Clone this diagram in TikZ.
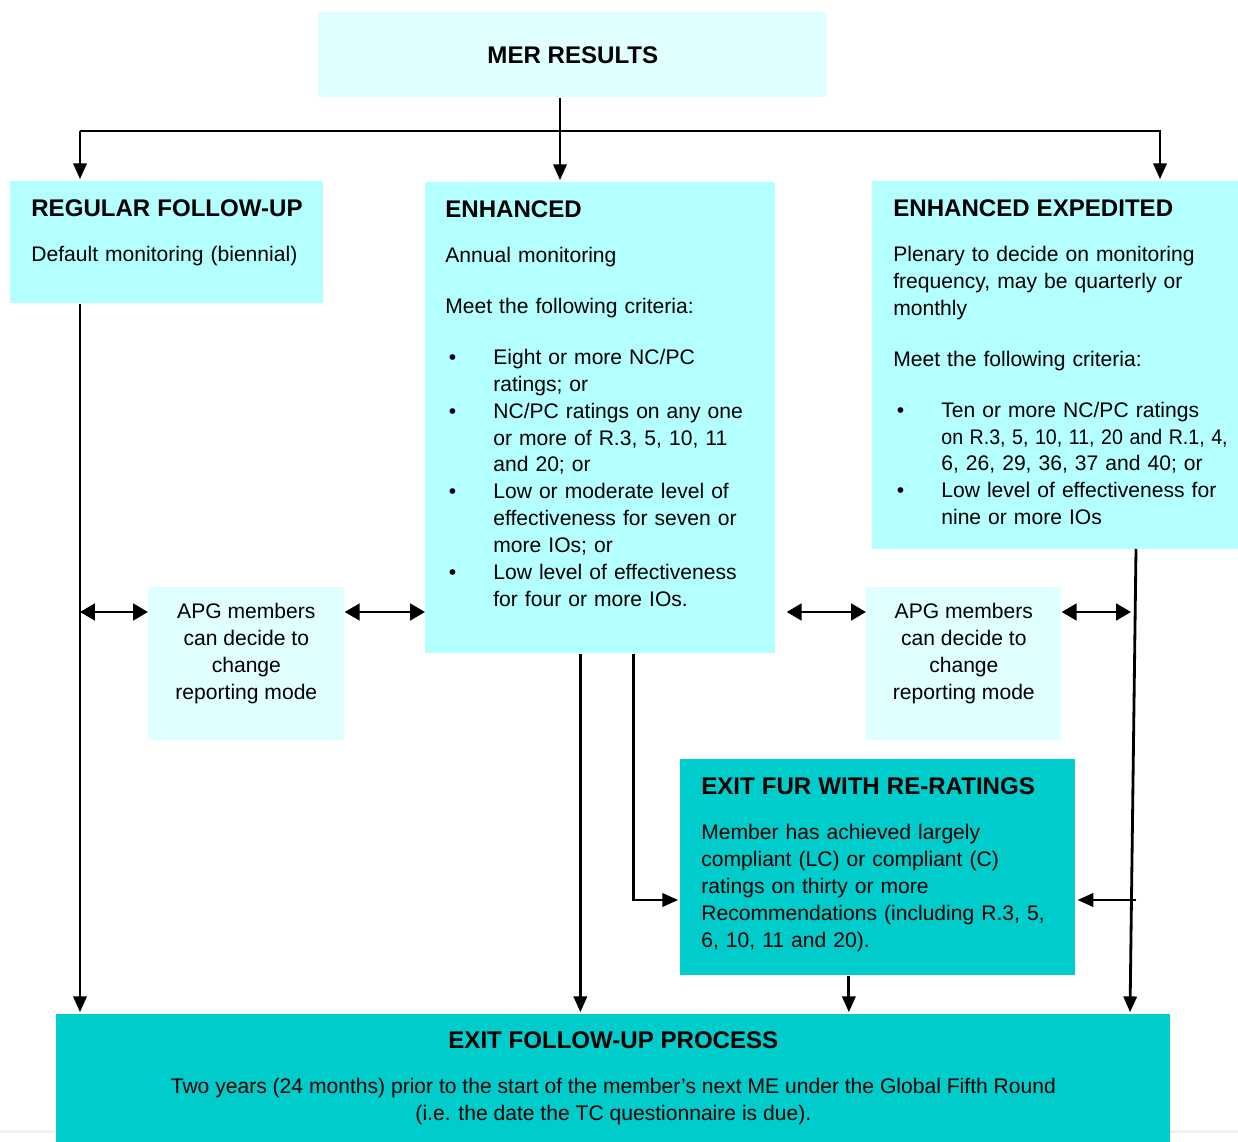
\documentclass[tikz,border=0pt]{standalone}
\usepackage{fontspec}
\setmainfont{Liberation Sans}
\usepackage{xcolor}
\usepackage{graphicx}
\usetikzlibrary{arrows.meta,positioning,calc}

\definecolor{palecyan}{HTML}{E0FFFF}
\definecolor{lightcyan}{HTML}{B4FFFF}
\definecolor{tealfill}{HTML}{00CCCC}

\setlength{\parindent}{0pt}
\newcommand{\bodyfont}{\fontsize{12pt}{15.3pt}\selectfont}
\newcommand{\headfont}{\fontsize{13.7pt}{16pt}\selectfont\bfseries}
\newcommand{\boxhead}[1]{{\headfont #1}\par\vspace{10.7pt}}
\newcommand{\paragap}{\par\vspace{13.6pt}}
\newcommand{\bulletitem}{\par\hangindent=0.96cm\hangafter=1\noindent\makebox[0.96cm][l]{\hspace{2pt}\textbullet}}

\begin{document}
\begin{tikzpicture}[
    x=0.02cm, y=-0.02cm,
    box/.style={
        rectangle,
        inner sep=0pt,
        anchor=north west
    },
    palebox/.style={box, fill=palecyan},
    mainbox/.style={box, fill=lightcyan},
    exitbox/.style={box, fill=tealfill},
    boxsize/.style 2 args={minimum width=#1*0.02cm, minimum height=#2*0.02cm},
    boxtext/.style={inner sep=0pt, anchor=north west, align=left, font=\bodyfont},
    apgtext/.style={inner sep=0pt, align=center, font=\bodyfont},
    arrow/.style={-{Triangle[length=9pt,width=7.5pt]}, line width=1.6pt, shorten >=1pt},
    twoway/.style={{Triangle[length=8.5pt,width=9.5pt]}-{Triangle[length=8.5pt,width=9.5pt]}, line width=1.6pt}
]
\useasboundingbox (0,0) rectangle (1238,1142);

% Page rule
\draw[gray!12, line width=0.06cm] (0,1131) -- (1238,1131);

% Top
\node[palebox, boxsize={509}{85}, font=\headfont] (mer) at (318,12) {MER RESULTS};

% Follow-up types
\node[mainbox, boxsize={313}{122}] (regular) at (10,181) {};
\node[boxtext, text width=6cm] (regulartext) at ([shift={(21,18)}]regular.north west)
    {\boxhead{REGULAR FOLLOW-UP}Default monitoring (biennial)\par};

\node[mainbox, boxsize={350}{471}] (enhanced) at (425,182) {};
\node[boxtext, text width=6.6cm] (enhancedtext) at ([shift={(20,18)}]enhanced.north west)
    {\boxhead{ENHANCED}Annual monitoring\paragap
     Meet the following criteria:\paragap
     \bulletitem Eight or more NC/PC\newline ratings; or
     \bulletitem NC/PC ratings on any one\newline or more of R.3, 5, 10, 11\newline and 20; or
     \bulletitem Low or moderate level of\newline effectiveness for seven or\newline more IOs; or
     \bulletitem Low level of effectiveness\newline for four or more IOs.\par};

\node[mainbox, boxsize={366}{368}] (expedited) at (872,181) {};
\node[boxtext, text width=6.9cm] (expeditedtext) at ([shift={(21,18)}]expedited.north west)
    {\boxhead{ENHANCED EXPEDITED}Plenary to decide on monitoring\newline frequency, may be quarterly or\newline monthly\paragap
     Meet the following criteria:\paragap
     \bulletitem Ten or more NC/PC ratings\newline \scalebox{0.93}[1]{on R.3, 5, 10, 11, 20 and R.1, 4,}\newline 6, 26, 29, 36, 37 and 40; or
     \bulletitem Low level of effectiveness for\newline nine or more IOs\par};

% Reporting mode
\node[palebox, boxsize={196}{153}] (apgleft) at (148,587) {};
\node[apgtext] (apglefttext) at ([shift={(0,-10.5)}]apgleft.center)
    {APG members\\can decide to\\change\\reporting mode};
\node[palebox, boxsize={195}{153}] (apgright) at (866,587) {};
\node[apgtext] (apgrighttext) at ([shift={(0,-10.5)}]apgright.center)
    {APG members\\can decide to\\change\\reporting mode};

% Exits
\node[exitbox, boxsize={395}{216}] (exitfur) at (680,759) {};
\node[boxtext, text width=7.5cm] (exitfurtext) at ([shift={(21,18)}]exitfur.north west)
    {\boxhead{EXIT FUR WITH RE-RATINGS}Member has achieved largely\newline compliant (LC) or compliant (C)\newline ratings on thirty or more\newline Recommendations (including R.3, 5,\newline 6, 10, 11 and 20).\par};

\node[exitbox, boxsize={1114}{128}, align=center, font=\bodyfont] (exitfollow) at (56,1014)
    {{\headfont EXIT FOLLOW-UP PROCESS}\\[10.7pt]Two years (24 months) prior to the start of the member’s next ME under the Global Fifth Round\\(i.e. the date the TC questionnaire is due).};

% Rails
\coordinate (leftrail) at (80,131);
\coordinate (midrail) at (560,131);
\coordinate (rightrail) at (1160,131);
\coordinate (apgrow) at (0,612);
\coordinate (furrow) at (0,900);
\coordinate (exprail) at (1136,549);

% Arrows - from results
\draw[arrow] (mer.south -| midrail) -- (enhanced.north -| midrail);
\draw[arrow] (leftrail) -- (rightrail) -- (expedited.north -| rightrail);
\draw[arrow] (leftrail) -- (regular.north -| leftrail);

% Arrows - to exits
\draw[arrow] (regular.south -| leftrail) -- (exitfollow.north -| leftrail);
\draw[arrow] ([xshift=-0.4cm]enhanced.south) -- ([xshift=-0.4cm]enhanced.south |- exitfollow.north);
\draw[arrow] ([xshift=0.66cm]enhanced.south) |- (exitfur.west |- furrow);
\draw[arrow] ([xshift=-0.58cm]exitfur.south) -- ([xshift=-0.58cm]exitfur.south |- exitfollow.north);
\draw[arrow] (exprail) -- ([xshift=-0.12cm]exitfollow.north -| exprail);
\draw[arrow] (exprail |- furrow) -- (exitfur.east |- furrow);

% Arrows - reporting mode
\draw[twoway] (leftrail |- apgrow) -- (apgleft.west |- apgrow);
\draw[twoway] (apgleft.east |- apgrow) -- (enhanced.west |- apgrow);
\draw[twoway, shorten <=0.22cm] (enhanced.east |- apgrow) -- (apgright.west |- apgrow);
\draw[twoway] (apgright.east |- apgrow) -- ([xshift=-0.1cm]exprail |- apgrow);

\end{tikzpicture}
\end{document}
